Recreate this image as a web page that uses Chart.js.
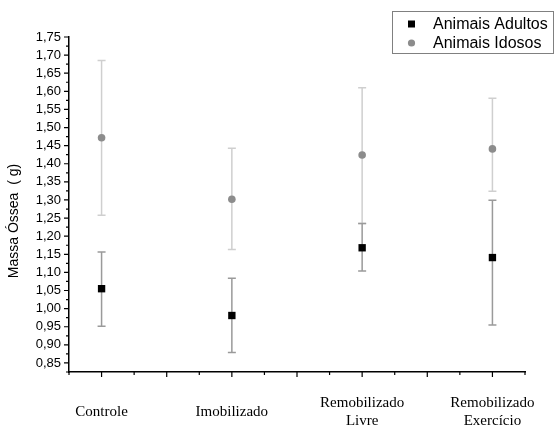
<!DOCTYPE html>
<html>
<head>
<meta charset="utf-8">
<script src="https://cdn.jsdelivr.net/npm/chart.js@4.4.1/dist/chart.umd.min.js"></script>
<style>
  html, body { margin: 0; padding: 0; background: #fff; }
  #wrap { width: 557px; height: 425px; }
</style>
</head>
<body>
<div id="wrap"><canvas id="massaChart"></canvas></div>
<script>
// === DADOS ===
const categories = ["Controle", "Imobilizado", ["Remobilizado", "Livre"], ["Remobilizado", "Exercício"]];
const categoryX = [1, 3, 5, 7];

const adultosMean  = [1.055, 0.981, 1.168, 1.141];
const adultosUpper = [1.156, 1.084, 1.235, 1.299];
const adultosLower = [0.951, 0.879, 1.104, 0.955];

const idososMean  = [1.472, 1.302, 1.424, 1.441];
const idososUpper = [1.685, 1.443, 1.610, 1.581];
const idososLower = [1.258, 1.163, 1.235, 1.324];

const yTickValues = [0.85, 0.90, 0.95, 1.00, 1.05, 1.10, 1.15, 1.20, 1.25, 1.30, 1.35, 1.40, 1.45, 1.50, 1.55, 1.60, 1.65, 1.70, 1.75];
const yTickLabels = ["0,85", "0,90", "0,95", "1,00", "1,05", "1,10", "1,15", "1,20", "1,25", "1,30", "1,35", "1,40", "1,45", "1,50", "1,55", "1,60", "1,65", "1,70", "1,75"];
const xTickValues = [1, 2, 3, 4, 5, 6, 7];

const legendLabels = ["Animais Adultos", "Animais Idosos"];
const yTitle = "Massa Óssea  ( g)";

// === ERROR BARS ===
const errorBars = {
    id: "errorBars",
    beforeDatasetsDraw(chart) {
        const ctx = chart.ctx;
        const xs = chart.scales.x, ys = chart.scales.y;
        const groups = [
            { up: idososUpper, lo: idososLower, color: "#cfcfcf" },
            { up: adultosUpper, lo: adultosLower, color: "#9a9a9a" },
        ];
        ctx.save();
        ctx.lineWidth = 1.5;
        groups.forEach((g) => {
            ctx.strokeStyle = g.color;
            categoryX.forEach((cx, i) => {
                const x = xs.getPixelForValue(cx);
                const y1 = ys.getPixelForValue(g.up[i]);
                const y2 = ys.getPixelForValue(g.lo[i]);
                ctx.beginPath();
                ctx.moveTo(x, y1); ctx.lineTo(x, y2);
                ctx.moveTo(x - 4, y1); ctx.lineTo(x + 4, y1);
                ctx.moveTo(x - 4, y2); ctx.lineTo(x + 4, y2);
                ctx.stroke();
            });
        });
        ctx.restore();
    },
};

// === TICKS (maior / menor), TITULO Y + LEGENDA ===
const axisTicks = {
    id: "axisTicks",
    afterDraw(chart) {
        const ctx = chart.ctx;
        const xs = chart.scales.x, ys = chart.scales.y;
        const area = chart.chartArea;
        ctx.save();
        ctx.strokeStyle = "#000";
        ctx.lineWidth = 1.2;
        ctx.beginPath();
        // y: maiores nos valores, menores entre eles
        yTickValues.forEach((v, i) => {
            const y = ys.getPixelForValue(v);
            ctx.moveTo(area.left - 5, y); ctx.lineTo(area.left, y);
            const m = i === 0 ? v - (yTickValues[1] - v) / 2 : (v + yTickValues[i - 1]) / 2;
            const ym = ys.getPixelForValue(m);
            ctx.moveTo(area.left - 3, ym); ctx.lineTo(area.left, ym);
        });
        // x
        xTickValues.forEach((v) => {
            const x = xs.getPixelForValue(v);
            ctx.moveTo(x, area.bottom); ctx.lineTo(x, area.bottom + 5);
            [v - 0.5, v + 0.5].forEach((m) => {
                const xm = xs.getPixelForValue(m);
                ctx.moveTo(xm, area.bottom); ctx.lineTo(xm, area.bottom + 3);
            });
        });
        ctx.stroke();

        // titulo eixo y
        ctx.save();
        ctx.translate(14, 221);
        ctx.rotate(-Math.PI / 2);
        ctx.fillStyle = "#000";
        ctx.font = "14px 'Liberation Sans', Arial, sans-serif";
        ctx.textAlign = "center";
        ctx.textBaseline = "middle";
        ctx.fillText(yTitle, 0, 0);
        ctx.restore();

        // legenda
        ctx.strokeStyle = "#808080";
        ctx.lineWidth = 1;
        ctx.strokeRect(392.5, 11.5, 161, 42);
        ctx.fillStyle = "#000";
        ctx.fillRect(408, 20.5, 7, 7);
        ctx.fillStyle = "#8c8c8c";
        ctx.beginPath();
        ctx.arc(411.5, 43, 3.6, 0, Math.PI * 2);
        ctx.fill();
        ctx.fillStyle = "#000";
        ctx.font = "16px 'Liberation Sans', Arial, sans-serif";
        ctx.textBaseline = "middle";
        ctx.fillText(legendLabels[0], 433, 24.5);
        ctx.fillText(legendLabels[1], 433, 43.5);
        ctx.restore();
    },
};

const ctx = document.getElementById("massaChart").getContext("2d");

new Chart(ctx, {
    type: "scatter",
    data: {
        datasets: [
            {
                label: legendLabels[0],
                data: categoryX.map((x, i) => ({ x: x, y: adultosMean[i] })),
                pointStyle: "rect",
                pointRadius: 5.2,
                pointHoverRadius: 5.2,
                backgroundColor: "#000",
                borderColor: "#000",
                borderWidth: 0,
            },
            {
                label: legendLabels[1],
                data: categoryX.map((x, i) => ({ x: x, y: idososMean[i] })),
                pointStyle: "circle",
                pointRadius: 3.8,
                pointHoverRadius: 3.8,
                backgroundColor: "#8c8c8c",
                borderColor: "#8c8c8c",
                borderWidth: 0,
            },
        ],
    },
    options: {
        responsive: true,
        maintainAspectRatio: false,
        animation: false,
        events: [],
        layout: { padding: { left: 0, right: 32, top: 37, bottom: 0 } },
        plugins: {
            legend: { display: false },
            tooltip: { enabled: false },
        },
        scales: {
            x: {
                type: "linear",
                min: 0.5,
                max: 7.5,
                afterBuildTicks: (scale) => {
                    scale.ticks = categoryX.map((v) => ({ value: v }));
                },
                afterFit: (scale) => {
                    scale.height = 53;
                    // labels podem passar da borda; nao encolher a area
                    scale.paddingLeft = 0;
                    scale.paddingRight = 0;
                },
                grid: { display: false, drawTicks: false },
                border: { display: true, color: "#000", width: 1.5 },
                ticks: {
                    autoSkip: false,
                    maxRotation: 0,
                    crossAlign: "center",
                    padding: 31,
                    color: "#000",
                    font: { family: "'Liberation Serif', 'Times New Roman', serif", size: 15 },
                    callback: (v, i) => categories[i],
                },
            },
            y: {
                type: "linear",
                min: 0.825,
                max: 1.75,
                afterBuildTicks: (scale) => {
                    scale.ticks = yTickValues.map((v) => ({ value: v }));
                },
                afterFit: (scale) => { scale.width = 69; },
                grid: { display: false, drawTicks: false },
                border: { display: true, color: "#000", width: 1.5 },
                ticks: {
                    autoSkip: false,
                    padding: 8,
                    color: "#000",
                    font: { family: "'Liberation Sans', Arial, sans-serif", size: 13 },
                    callback: (v, i) => yTickLabels[i],
                },
            },
        },
    },
    plugins: [errorBars, axisTicks],
});
</script>
</body>
</html>
